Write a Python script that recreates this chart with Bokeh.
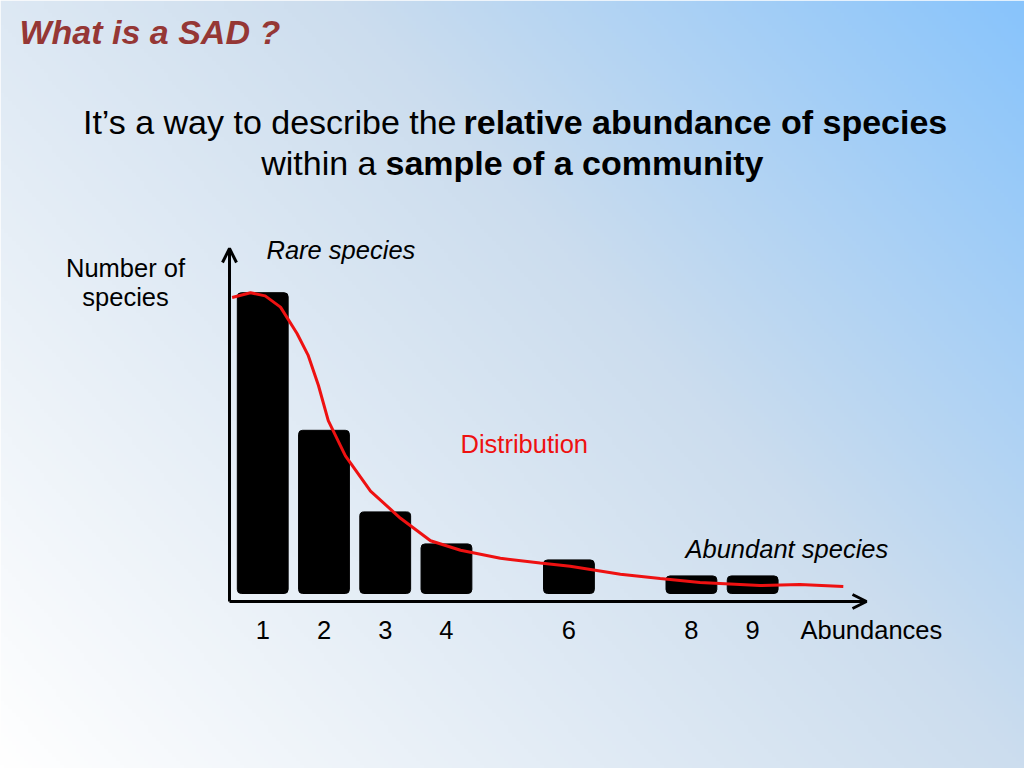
import numpy as np
from bokeh.plotting import figure
from bokeh.models import Label, Arrow, OpenHead, ColumnDataSource
from bokeh.core.properties import value
from bokeh.embed import file_html
from bokeh.resources import INLINE

# ---------------- data ----------------
abundances = [1, 2, 3, 4, 6, 8, 9]
tick_labels = ["1", "2", "3", "4", "6", "8", "9"]
num_species = [18.8, 10.2, 5.1, 3.1, 2.1, 1.1, 1.1]

curve_x = [0.50, 0.80, 1.04, 1.29, 1.56, 1.74, 1.91, 2.07, 2.35, 2.76, 3.25, 3.74,
           4.23, 4.88, 5.53, 6.02, 6.84, 7.49, 8.14, 9.12, 9.77, 10.48]
curve_y = [18.5, 18.8, 18.6, 17.9, 16.25, 14.9, 13.0, 10.8, 8.6, 6.4, 4.7, 3.3,
           2.7, 2.2, 1.9, 1.7, 1.2, 0.94, 0.69, 0.5, 0.56, 0.44]

# ---------------- layout helpers (slide pixel -> data units) ----------------
W, H = 1024, 768
PX0, PXU = 201.0, 61.24   # slide x of abundance 0, px per abundance unit
PY0, PYU = 593.0, 16.0    # slide y of zero species, px per species unit


def gx(X):
    return (X - PX0) / PXU


def gy(Y):
    return (PY0 - Y) / PYU


x0, x1 = gx(0), gx(W)
y0, y1 = gy(H), gy(0)

p = figure(width=W, height=H, x_range=(x0, x1), y_range=(y0, y1),
           output_backend="svg", toolbar_location=None, min_border=0)
p.axis.visible = False
p.grid.visible = False
p.outline_line_color = None
p.background_fill_color = "white"
p.border_fill_color = "white"

# ---------------- gradient background ----------------
nx, ny = W // 4, H // 4
Xs = np.linspace(0, W, nx)
Ys = np.linspace(H, 0, ny)  # row 0 = bottom
XX, YY = np.meshgrid(Xs, Ys)
t = 0.6 * XX / 1024.0 + 0.4 * (1 - YY / 768.0)
stops_t = [0.0, 0.6, 1.0]
stops_c = np.array([[255, 255, 255], [204, 221, 238], [136, 196, 252]], dtype=float)
img = np.zeros((ny, nx), dtype=np.uint32)
view = img.view(dtype=np.uint8).reshape((ny, nx, 4))
for k in range(3):
    view[:, :, k] = np.interp(t, stops_t, stops_c[:, k]).astype(np.uint8)
view[:, :, 3] = 255
p.image_rgba(image=[img], x=x0, y=y0, dw=x1 - x0, dh=y1 - y0)

# ---------------- bars ----------------
src = ColumnDataSource(dict(x=abundances, top=num_species, lab=tick_labels))
p.vbar(x="x", top="top", bottom=0, width=0.83, source=src,
       fill_color="black", line_color="black", line_width=1, border_radius=4)

# ---------------- distribution curve ----------------
p.line(curve_x, curve_y, line_color="#ee1111", line_width=3)

# ---------------- axes arrows ----------------
ax_x, ax_y = gx(229), gy(601)
p.add_layout(Arrow(x_start=ax_x, y_start=ax_y, x_end=ax_x, y_end=gy(248),
                   line_width=3, line_color="black",
                   end=OpenHead(size=14, line_width=3, line_color="black")))
p.add_layout(Arrow(x_start=ax_x, y_start=ax_y, x_end=gx(866), y_end=ax_y,
                   line_width=3, line_color="black",
                   end=OpenHead(size=14, line_width=3, line_color="black")))

# tick labels
p.text(x="x", y=gy(629), text="lab", source=src, text_align="center",
       text_baseline="alphabetic", text_font=value("Liberation Sans"),
       text_font_size="25.5px", text_color="black")

FONT = "Liberation Sans"


def lab(X, Y, txt, size="25.5px", style="normal", color="black", align="left"):
    p.add_layout(Label(x=gx(X), y=gy(Y), text=txt, text_font=FONT,
                       text_font_size=size, text_font_style=style,
                       text_color=color, text_align=align,
                       text_baseline="alphabetic"))


# title and subtitle
lab(19, 31, "What is a SAD ?", size="34px", style="bold italic", color="#953735")
lab(456, 121, "It’s a way to describe the", size="34px", align="right")
lab(463, 121, "relative abundance of species", size="34px", style="bold")
lab(376, 162, "within a", size="34px", align="right")
lab(385, 162, "sample of a community", size="34px", style="bold")

# annotations
lab(125, 267, "Number of", align="center")
lab(125, 296, "species", align="center")
lab(266, 249, "Rare species", style="italic")
lab(460, 443, "Distribution", color="#ee1111")
lab(685, 548, "Abundant species", style="italic")
lab(800, 629, "Abundances")

open("out.html", "w").write(file_html(p, INLINE))
